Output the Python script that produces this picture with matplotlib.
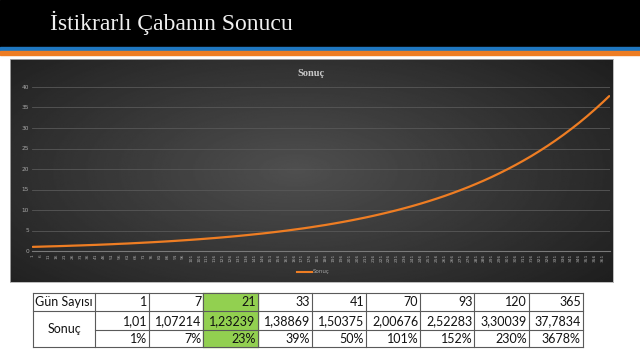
import numpy as np
import matplotlib
matplotlib.use("Agg")
import matplotlib.pyplot as plt
from matplotlib.patches import Rectangle
from matplotlib.lines import Line2D

# ---------------- data ----------------
title = "İstikrarlı Çabanın Sonucu"
chart_title = "Sonuç"
series_name = "Sonuç"
day_points = [1, 6, 11, 16, 21, 26, 31, 36, 41, 46, 51, 56, 61, 66, 71, 76, 81, 86,
              91, 96, 101, 106, 111, 116, 121, 126, 131, 136, 141, 146, 151, 156,
              161, 166, 171, 176, 181, 186, 191, 196, 201, 206, 211, 216, 221, 226,
              231, 236, 241, 246, 251, 256, 261, 266, 271, 276, 281, 286, 291, 296,
              301, 306, 311, 316, 321, 326, 331, 336, 341, 346, 351, 356, 361, 365]
result_values = [1.01, 1.06, 1.12, 1.17, 1.23, 1.30, 1.36, 1.43, 1.50, 1.58, 1.66,
                 1.75, 1.83, 1.93, 2.03, 2.13, 2.24, 2.35, 2.47, 2.60, 2.73, 2.87,
                 3.02, 3.17, 3.33, 3.50, 3.68, 3.87, 4.07, 4.27, 4.49, 4.72, 4.96,
                 5.22, 5.48, 5.76, 6.06, 6.36, 6.69, 7.03, 7.39, 7.77, 8.16, 8.58,
                 9.02, 9.48, 9.96, 10.47, 11.00, 11.56, 12.15, 12.77, 13.42, 14.11,
                 14.83, 15.58, 16.38, 17.21, 18.09, 19.02, 19.99, 21.01, 22.08, 23.20,
                 24.39, 25.63, 26.94, 28.31, 29.76, 31.27, 32.87, 34.55, 36.31, 37.78]
n_days = 365
x_tick_days = list(range(1, 366, 5))
y_ticks = [0, 5, 10, 15, 20, 25, 30, 35, 40]

table_row_labels = ["Gün Sayısı", "Sonuç"]
table_days = ["1", "7", "21", "33", "41", "70", "93", "120", "365"]
table_results = ["1,01", "1,07214", "1,23239", "1,38869", "1,50375", "2,00676",
                 "2,52283", "3,30039", "37,7834"]
table_percent = ["1%", "7%", "23%", "39%", "50%", "101%", "152%", "230%", "3678%"]
highlight_col = 2

# ---------------- figure ----------------
W, H = 640, 360
fig = plt.figure(figsize=(W / 100, H / 100), dpi=100, facecolor="white")

def fx(px):
    return px / W

def fy(py):
    return 1 - py / H

# header
fig.patches.append(Rectangle((0, fy(46.5)), 1, 46.5 / H, transform=fig.transFigure,
                             color="black", zorder=0))
fig.patches.append(Rectangle((0, fy(50.5)), 1, 4 / H, transform=fig.transFigure,
                             color="#1f77c0", zorder=0))
fig.patches.append(Rectangle((0, fy(54.5)), 1, 4 / H, transform=fig.transFigure,
                             color="#ee7d23", zorder=0))
fig.text(fx(50), fy(23), title, family="Liberation Serif", fontsize=17,
         color="#f0f0f0", ha="left", va="center")

# chart background (gradient)
bx0, bx1, by0, by1 = 10, 613, 59, 282
bg = fig.add_axes([fx(bx0), fy(by1), fx(bx1 - bx0), (by1 - by0) / H])
bg.set_xticks([])
bg.set_yticks([])
for s in bg.spines.values():
    s.set_color("#b0b0b0")
    s.set_linewidth(0.6)
gx = np.linspace(-1, 1, 400)
gy = np.linspace(-1, 1, 200)
GX, GY = np.meshgrid(gx, gy)
d = np.sqrt((GX * 0.95 + 0.05) ** 2 + (GY * 0.8) ** 2)
img = 0.31 - 0.15 * np.clip(d, 0, 1.3)
bg.imshow(img, cmap="gray", vmin=0, vmax=1, aspect="auto", extent=[0, 1, 0, 1])
bg.set_xlim(0, 1)
bg.set_ylim(0, 1)
bg.text(0.5, 1 - (74 - by0) / (by1 - by0), chart_title, transform=bg.transAxes,
        ha="center", va="center", fontsize=7.5, fontweight="bold",
        family="Liberation Serif", color="#c8c8c8")
# legend
leg_y = 1 - (272 - by0) / (by1 - by0)
bg.add_line(Line2D([(297 - bx0) / (bx1 - bx0), (312 - bx0) / (bx1 - bx0)],
                   [leg_y, leg_y], color="#ee7d23", lw=1.5, transform=bg.transAxes))
bg.text((313 - bx0) / (bx1 - bx0), leg_y, series_name, transform=bg.transAxes,
        ha="left", va="center", fontsize=4, color="#a8a8a8")

# plot area
px0, px1, py_top, py_bot = 32, 610, 87, 251
ax = fig.add_axes([fx(px0), fy(py_bot), fx(px1 - px0), (py_bot - py_top) / H])
ax.patch.set_alpha(0)
ax.plot(day_points, result_values, color="#ee7d23", lw=1.6, solid_capstyle="round")
ax.set_xlim(0.5, n_days + 0.5)
ax.set_ylim(0, 40)
ax.set_yticks(y_ticks)
ax.set_yticklabels([str(v) for v in y_ticks], fontsize=4.2, color="#a8a8a8")
ax.set_xticks(x_tick_days)
ax.set_xticklabels([str(v) for v in x_tick_days], fontsize=3.2, color="#a8a8a8",
                   rotation=90)
ax.tick_params(length=0, pad=2)
ax.grid(axis="y", color="#585858", lw=0.6)
ax.set_axisbelow(True)
for s in ["top", "right", "left"]:
    ax.spines[s].set_visible(False)
ax.spines["bottom"].set_color("#7a7a7a")
ax.spines["bottom"].set_linewidth(0.8)

# table
tab = fig.add_axes([0, 0, 1, 1])
tab.set_xlim(0, W)
tab.set_ylim(H, 0)
tab.set_axis_off()
tab.patch.set_alpha(0)
x_left, x_label_r, col_w = 33, 95, 54.2
rows = [293, 311, 330, 347]
ncol = len(table_days)
x_right = x_label_r + col_w * ncol
# highlight
hx = x_label_r + col_w * highlight_col
tab.add_patch(Rectangle((hx, rows[0]), col_w, rows[3] - rows[0], color="#92d050",
                        zorder=1))
lc, lw = "#5a5a5a", 0.8
tab.plot([x_left, x_right], [rows[0], rows[0]], color=lc, lw=lw, zorder=2)
tab.plot([x_left, x_right], [rows[1], rows[1]], color=lc, lw=lw, zorder=2)
tab.plot([x_label_r, x_right], [rows[2], rows[2]], color=lc, lw=lw, zorder=2)
tab.plot([x_left, x_right], [rows[3], rows[3]], color=lc, lw=lw, zorder=2)
tab.plot([x_left, x_left], [rows[0], rows[3]], color=lc, lw=lw, zorder=2)
for i in range(ncol + 1):
    xx = x_label_r + col_w * i
    tab.plot([xx, xx], [rows[0], rows[3]], color=lc, lw=lw, zorder=2)
tfont = dict(family="Lato", fontsize=9, color="#111111", zorder=3)
tab.text(x_left + 2, (rows[0] + rows[1]) / 2 + 0.5, table_row_labels[0],
         ha="left", va="center", **tfont)
tab.text((x_left + x_label_r) / 2, (rows[1] + rows[3]) / 2, table_row_labels[1],
         ha="center", va="center", **tfont)
for i in range(ncol):
    xr = x_label_r + col_w * (i + 1) - 2
    tab.text(xr, (rows[0] + rows[1]) / 2 + 0.5, table_days[i], ha="right",
             va="center", **tfont)
    tab.text(xr, (rows[1] + rows[2]) / 2 + 0.5, table_results[i], ha="right",
             va="center", **tfont)
    tab.text(xr, (rows[2] + rows[3]) / 2 + 0.5, table_percent[i], ha="right",
             va="center", **tfont)

fig.savefig("out.png", dpi=100, facecolor="white")
